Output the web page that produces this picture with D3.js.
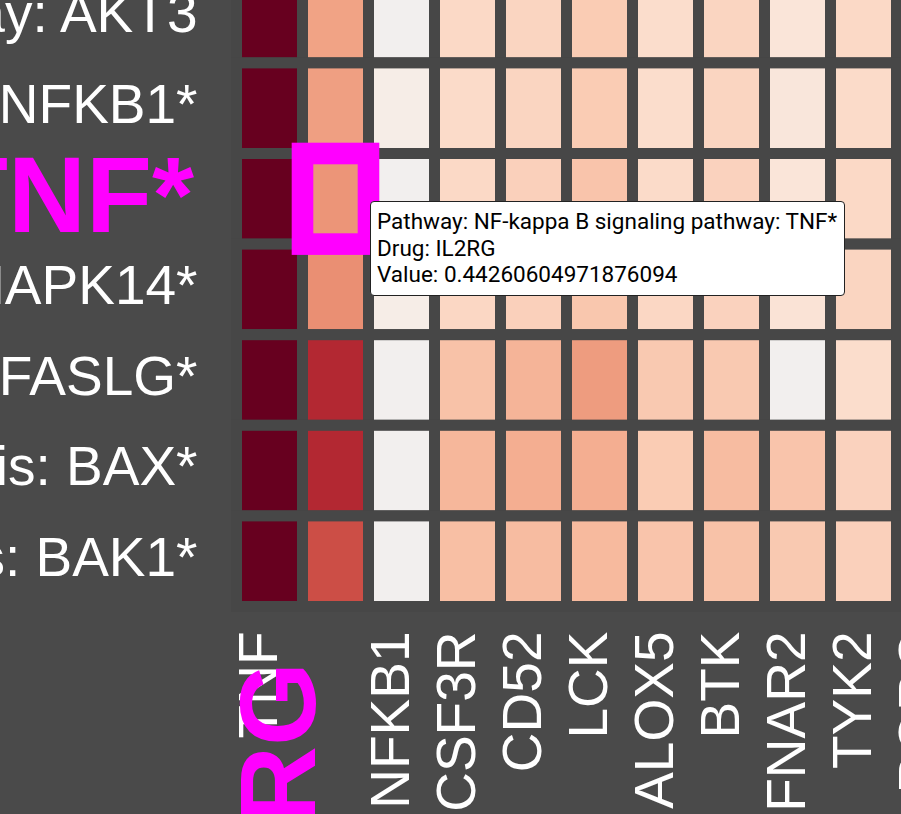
<!DOCTYPE html>
<html>
<head>
<meta charset="utf-8">
<script src="https://cdn.jsdelivr.net/npm/d3@7/dist/d3.min.js"></script>
<style>
  html, body { margin: 0; padding: 0; background: #4a4a4a; overflow: hidden; }
  #chart { position: relative; width: 901px; height: 814px; }
  .tooltip {
    position: absolute;
    background: #fff;
    border: 1px solid #222;
    border-radius: 4px;
    padding: 6px 7px 7px 6px;
    font-family: Roboto, sans-serif;
    font-size: 22.5px;
    line-height: 26.7px;
    color: #000;
    white-space: nowrap;
  }
</style>
</head>
<body>
<div id="chart"></div>
<script>
// pathway rows (only the part of the heatmap in view)
var pathways = [
  "PI3K-Akt signaling pathway: AKT3",
  "NF-kappa B signaling pathway: NFKB1*",
  "NF-kappa B signaling pathway: TNF*",
  "MAPK signaling pathway: MAPK14*",
  "Apoptosis: FASLG*",
  "Apoptosis: BAX*",
  "Apoptosis: BAK1*"
];

// drug target columns
var drugs = ["TNF", "IL2RG", "NFKB1", "CSF3R", "CD52", "LCK", "ALOX5", "BTK", "IFNAR2", "TYK2", "RORC"];

// values per pathway row, same order as drugs (RORC column is out of view)
var values = [
  [1.0, 0.40, 0.00, 0.19, 0.21, 0.25, 0.17, 0.21, 0.12, 0.19],
  [1.0, 0.41, 0.05, 0.18, 0.21, 0.25, 0.17, 0.21, 0.11, 0.18],
  [1.0, 0.44260604971876094, 0.00, 0.19, 0.23, 0.28, 0.18, 0.22, 0.12, 0.19],
  [1.0, 0.46, 0.05, 0.20, 0.23, 0.27, 0.20, 0.22, 0.13, 0.21],
  [1.0, 0.77, 0.00, 0.29, 0.34, 0.42, 0.26, 0.26, 0.00, 0.17],
  [1.0, 0.77, 0.00, 0.33, 0.36, 0.36, 0.25, 0.31, 0.28, 0.22],
  [1.0, 0.65, 0.00, 0.30, 0.31, 0.32, 0.28, 0.29, 0.26, 0.23]
];

// the hovered cell
var selPathway = "NF-kappa B signaling pathway: TNF*";
var selDrug = "IL2RG";

var width = 901, height = 814;

var cells = [];
pathways.forEach(function(p, i) {
  values[i].forEach(function(v, j) {
    cells.push({pathway: p, drug: drugs[j], value: v});
  });
});

// zoomed-in view: the bands start a little outside the window
var x = d3.scaleBand()
  .domain(drugs)
  .range([236.5, 236.5 + 66 * drugs.length]);

var y = d3.scaleBand()
  .domain(pathways)
  .range([-27.7, -27.7 + 90.6 * pathways.length]);

var color = d3.scaleSequential(d3.interpolateRdBu).domain([1, -1]);

var svg = d3.select("#chart")
  .append("svg")
  .attr("width", width)
  .attr("height", height)
  .style("position", "absolute")
  .style("left", 0)
  .style("top", 0);

// cells, the thick stroke makes the gaps
svg.append("g")
  .selectAll("rect")
  .data(cells)
  .enter().append("rect")
  .attr("x", function(d) { return x(d.drug); })
  .attr("y", function(d) { return y(d.pathway); })
  .attr("width", x.bandwidth())
  .attr("height", y.bandwidth())
  .attr("fill", function(d) { return color(d.value); })
  .attr("stroke", "#474747")
  .attr("stroke-width", 11);

// highlighted cell
var sel = cells.filter(function(d) { return d.pathway === selPathway && d.drug === selDrug; })[0];
svg.append("rect")
  .attr("x", x(sel.drug))
  .attr("y", y(sel.pathway))
  .attr("width", x.bandwidth())
  .attr("height", y.bandwidth())
  .attr("fill", color(sel.value))
  .attr("stroke", "#ff00ff")
  .attr("stroke-width", 21.6);

// row labels
svg.append("g")
  .selectAll("text")
  .data(pathways)
  .enter().append("text")
  .attr("x", function(d) { return d === selPathway ? 194 : 197.5; })
  .attr("y", function(d) { return y(d) + y.bandwidth() / 2; })
  .attr("dy", function(d) { return d === selPathway ? "0.305em" : "0.27em"; })
  .attr("text-anchor", "end")
  .style("font-family", "'Liberation Sans', Arial, sans-serif")
  .style("font-size", function(d) { return d === selPathway ? "108px" : "55px"; })
  .style("font-weight", function(d) { return d === selPathway ? "bold" : "normal"; })
  .attr("fill", function(d) { return d === selPathway ? "#ff00ff" : "#fff"; })
  .text(function(d) { return d; });

// column labels, highlighted one drawn last
var colOrder = drugs.filter(function(d) { return d !== selDrug; }).concat([selDrug]);
svg.append("g")
  .selectAll("text")
  .data(colOrder)
  .enter().append("text")
  .attr("transform", function(d) {
    var cx = x(d) + x.bandwidth() / 2;
    return "translate(" + cx + "," + (d === selDrug ? 662 : 631.5) + ")rotate(-90)";
  })
  .attr("dy", function(d) { return d === selDrug ? "-0.19em" : "0.13em"; })
  .attr("text-anchor", "end")
  .style("font-family", "'Liberation Sans', Arial, sans-serif")
  .style("font-size", function(d) { return d === selDrug ? "108px" : "55px"; })
  .style("font-weight", function(d) { return d === selDrug ? "bold" : "normal"; })
  .attr("fill", function(d) { return d === selDrug ? "#ff00ff" : "#fff"; })
  .text(function(d) { return d; });

// tooltip for the hovered cell
d3.select("#chart").append("div")
  .attr("class", "tooltip")
  .style("left", "370px")
  .style("top", "201px")
  .html("Pathway: " + sel.pathway + "<br>Drug: " + sel.drug + "<br>Value: " + sel.value);
</script>
</body>
</html>
